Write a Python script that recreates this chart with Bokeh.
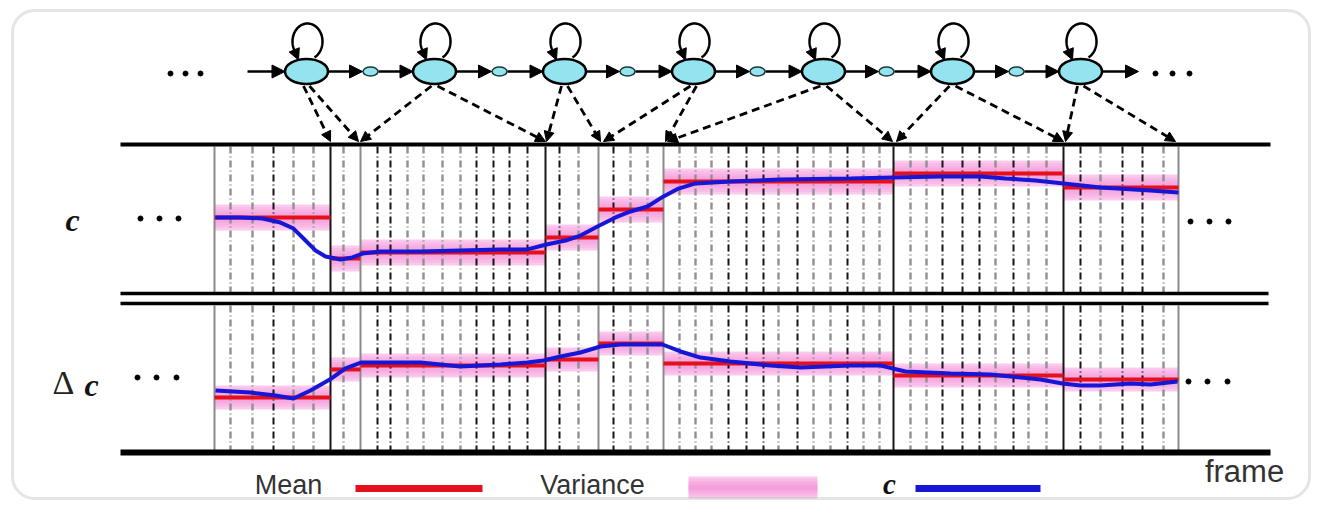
import numpy as np
from bokeh.plotting import figure
from bokeh.models import Range1d, Arrow, NormalHead, BoxAnnotation
from bokeh.core.properties import value
from bokeh.embed import file_html
from bokeh.resources import INLINE

# ---------------- data ----------------
# segment boundaries along the frame axis
seg_bounds = [214, 330, 360, 545, 598, 663, 893, 1063, 1178]
seg_bound_dark = [False, True, False, True, False, False, True, True, False]

# individual frame positions and whether drawn dark
frame_x = [230, 252, 273, 293, 313,
           343,
           377, 390, 407, 423, 442, 460, 476, 493, 509, 527,
           559, 578,
           613, 630, 647,
           679, 695, 711, 728, 746, 763, 778, 797, 813, 830, 847, 863, 879,
           910, 926, 942, 962, 979, 995, 1013, 1028, 1046,
           1080, 1100, 1122, 1142, 1163]
frame_dark = [0, 0, 1, 0, 0,
              0,
              1, 1, 0, 0, 0, 0, 1, 1, 1, 1,
              1, 0,
              1, 0, 0,
              0, 0, 0, 1, 1, 1, 0, 1, 0, 0, 1, 0, 0,
              0, 0, 1, 1, 1, 0, 1, 0, 0,
              1, 0, 1, 1, 0]

# per-segment Gaussian parameters (value units 0..10 inside each panel)
c_mean = [5.14, 2.33, 2.74, 3.77, 5.68, 7.60, 8.15, 7.19]
c_spread = [0.89, 0.89, 0.89, 0.89, 0.89, 0.89, 0.89, 0.89]
dc_mean = [3.66, 5.59, 5.86, 6.28, 7.38, 6.00, 5.17, 4.90]
dc_spread = [0.83, 0.83, 0.83, 0.83, 0.83, 0.83, 0.83, 0.83]

# observed feature trajectories
c_x = [215, 240, 262, 280, 293, 305, 315, 325, 340, 352, 362, 380, 420, 460, 500,
       527, 546, 565, 580, 597, 615, 630, 647, 663, 678, 695, 730, 780, 850, 893,
       940, 980, 1005, 1035, 1063, 1100, 1150, 1178]
c_val = [5.14, 5.14, 5.07, 4.79, 4.38, 3.56, 2.88, 2.47, 2.26, 2.40, 2.67, 2.81, 2.81,
         2.88, 2.95, 2.95, 3.29, 3.56, 3.90, 4.52, 5.14, 5.55, 5.89, 6.58, 7.12, 7.47,
         7.60, 7.74, 7.81, 7.88, 7.95, 7.95, 7.81, 7.67, 7.47, 7.19, 6.99, 6.85]
dc_x = [215, 250, 275, 293, 310, 331, 345, 361, 380, 420, 460, 500, 527, 543, 560,
        580, 600, 620, 662, 680, 700, 730, 770, 800, 850, 880, 892, 905, 950, 990,
        1040, 1062, 1080, 1100, 1130, 1150, 1177]
dc_val = [4.14, 4.00, 3.79, 3.59, 4.14, 4.97, 5.66, 6.07, 6.07, 6.07, 5.79, 5.93, 6.07,
          6.21, 6.48, 6.76, 7.17, 7.31, 7.31, 6.83, 6.41, 6.14, 5.86, 5.72, 5.86, 5.86,
          5.66, 5.45, 5.31, 5.24, 4.90, 4.62, 4.48, 4.48, 4.62, 4.55, 4.76]

# HMM states and the segment boundaries each one points to
state_x = [306, 434, 564, 693, 823, 952, 1080]
inter_x = [370, 499, 627, 757, 886, 1016]
state_targets = [[330, 358], [360, 545], [546, 600], [603, 665],
                 [667, 892], [896, 1063], [1065, 1175]]

legend_labels = ["Mean", "Variance", "c", "frame"]

# ---------------- geometry / styles ----------------
X0, X1, Y0, Y1 = 0, 1311, 0, 500
TOP = (146, 292)
LOW = (305, 450)
STATE_Y, STATE_W, STATE_H = 71, 43, 25
RED = "#e5101c"
BLUE = "#1616d6"
PINK_BASE = "#fbc9ee"
PINK = "#f070c8"
CYAN = "#93e4ef"


def panel_range(ytop, ybot, vmax=10.0):
    s = (ybot - ytop) / vmax
    return Range1d(start=(ybot - Y1) / s, end=(ybot - Y0) / s)


p = figure(width=1311, height=500, x_range=Range1d(X0, X1), y_range=Range1d(Y1, Y0),
           output_backend="svg", toolbar_location=None, x_axis_type=None,
           y_axis_type=None, min_border=0)
p.grid.visible = False
p.outline_line_color = None
p.background_fill_color = "white"
p.extra_y_ranges = {"c": panel_range(*TOP), "dc": panel_range(*LOW)}

# outer rounded frame
p.add_layout(BoxAnnotation(left=12, right=1309, top=10, bottom=498, border_radius=22,
                           fill_alpha=0, line_color="#a8a8a8", line_width=3))

seg_l = seg_bounds[:-1]
seg_r = seg_bounds[1:]
FRACS = (0.8, 0.6, 0.4, 0.2)

for name, means, spread, (yt, yb) in (("c", c_mean, c_spread, TOP),
                                      ("dc", dc_mean, dc_spread, LOW)):
    # variance bands (layered for a soft gradient)
    p.quad(left=seg_l, right=seg_r,
           top=[m + s for m, s in zip(means, spread)],
           bottom=[m - s for m, s in zip(means, spread)],
           fill_color=PINK_BASE, line_color=None, y_range_name=name)
    for frac in FRACS:
        p.quad(left=seg_l, right=seg_r,
               top=[m + s * frac for m, s in zip(means, spread)],
               bottom=[m - s * frac for m, s in zip(means, spread)],
               fill_color=PINK, fill_alpha=0.14, line_color=None, y_range_name=name)
    # frame lines
    fx_d = [x for x, d in zip(frame_x, frame_dark) if d]
    fx_g = [x for x, d in zip(frame_x, frame_dark) if not d]
    p.segment(x0=fx_g, x1=fx_g, y0=[yt] * len(fx_g), y1=[yb] * len(fx_g),
              line_color="#909090", line_width=2.4, line_dash="7 3 1 3")
    p.segment(x0=fx_d, x1=fx_d, y0=[yt] * len(fx_d), y1=[yb] * len(fx_d),
              line_color="#151515", line_width=2, line_dash="7 3 1 3")
    # segment boundaries
    cols = ["#161616" if d else "#8a8a8a" for d in seg_bound_dark]
    p.segment(x0=seg_bounds, x1=seg_bounds, y0=[yt] * len(seg_bounds),
              y1=[yb] * len(seg_bounds), line_color=cols, line_width=2)
    # mean lines
    p.segment(x0=seg_l, x1=seg_r, y0=means, y1=means, line_color=RED, line_width=4,
              y_range_name=name)

p.line(c_x, c_val, line_color=BLUE, line_width=4, y_range_name="c")
p.line(dc_x, dc_val, line_color=BLUE, line_width=4, y_range_name="dc")

# panel rules
p.segment(x0=[120, 120, 120, 120], x1=[1270, 1268, 1268, 1270],
          y0=[144, 293, 303, 452], y1=[144, 293, 303, 452],
          line_color="black", line_width=[4, 3.5, 3.5, 6])

# ---------------- HMM graph ----------------
head = dict(fill_color="black", line_color="black")
# chain arrows
chain = [(247, state_x[0] - STATE_W / 2)]
for sx, ix, nx in zip(state_x[:-1], inter_x, state_x[1:]):
    chain.append((sx + STATE_W / 2, ix - 8))
    chain.append((ix + 8, nx - STATE_W / 2))
chain.append((state_x[-1] + STATE_W / 2, 1138))
for xs, xe in chain:
    p.add_layout(Arrow(end=NormalHead(size=13, **head), x_start=xs, y_start=STATE_Y,
                       x_end=xe, y_end=STATE_Y, line_width=2.5, line_color="black"))

# self loops
th = np.radians(np.linspace(-62, 215, 80))
loops_x = [list(sx + 1 + 15 * np.cos(th)) for sx in state_x]
loops_y = [list(41 - 18 * np.sin(th)) for sx in state_x]
p.multi_line(loops_x, loops_y, line_color="black", line_width=2.5)
for sx in state_x:
    p.add_layout(Arrow(end=NormalHead(size=11, **head), x_start=sx - 12, y_start=50,
                       x_end=sx - 8, y_end=59.5, line_width=2.5, line_color="black"))

# dashed emission arrows
for sx, tg in zip(state_x, state_targets):
    for k, tx in enumerate(tg):
        sxx = sx - 3 + 6 * k
        p.add_layout(Arrow(end=NormalHead(size=10, **head), x_start=sxx,
                           y_start=STATE_Y + STATE_H / 2 + 2, x_end=tx, y_end=141,
                           line_width=2.8, line_color="black", line_dash="8 5"))

p.ellipse(x=state_x, y=[STATE_Y] * len(state_x), width=STATE_W, height=STATE_H,
          fill_color=CYAN, line_color="black", line_width=2.5)
p.ellipse(x=inter_x, y=[STATE_Y] * len(inter_x), width=15, height=9,
          fill_color=CYAN, line_color="#1a3a3a", line_width=1.5)

# ellipsis dots
p.scatter(x=[170, 185, 200, 1155, 1172, 1189, 140, 159, 178, 1190, 1209, 1228,
             137, 156, 176, 1188, 1207, 1227],
          y=[73, 73, 73, 73, 73, 73, 218, 218, 218, 221, 221, 221,
             377, 377, 377, 381, 381, 381],
          size=5, color="black")

# ---------------- labels ----------------
serif = value("Liberation Serif")
sans = value("Liberation Sans")
p.text(x=[72, 91], y=[219, 384], text=["c", "c"], text_font=serif,
       text_font_style="bold italic", text_font_size="32px", text_align="center",
       text_baseline="middle", text_color="#111111")
p.text(x=[63], y=[382], text=["Δ"], text_font=serif, text_font_size="34px",
       text_align="center", text_baseline="middle", text_color="#222222")

# legend
p.text(x=[288, 592], y=[484, 484], text=legend_labels[:2], text_font=sans,
       text_font_size="27px", text_align="center", text_baseline="middle",
       text_color="#333333")
p.text(x=[1244], y=[471], text=[legend_labels[3]], text_font=sans,
       text_font_size="31px", text_align="center", text_baseline="middle",
       text_color="#333333")
p.text(x=[889], y=[483], text=[legend_labels[2]], text_font=serif,
       text_font_style="bold italic", text_font_size="29px", text_align="center",
       text_baseline="middle", text_color="#111111")
p.segment(x0=[355], x1=[482], y0=[488], y1=[488], line_color=RED, line_width=7)
p.segment(x0=[915], x1=[1040], y0=[488], y1=[488], line_color=BLUE, line_width=7)
p.quad(left=[688], right=[817], top=[476], bottom=[498], fill_color=PINK_BASE,
       line_color=None)
for frac in FRACS:
    p.quad(left=[688], right=[817], top=[487 - 11 * frac], bottom=[487 + 11 * frac],
           fill_color=PINK, fill_alpha=0.14, line_color=None)

open("out.html", "w").write(file_html(p, INLINE))
